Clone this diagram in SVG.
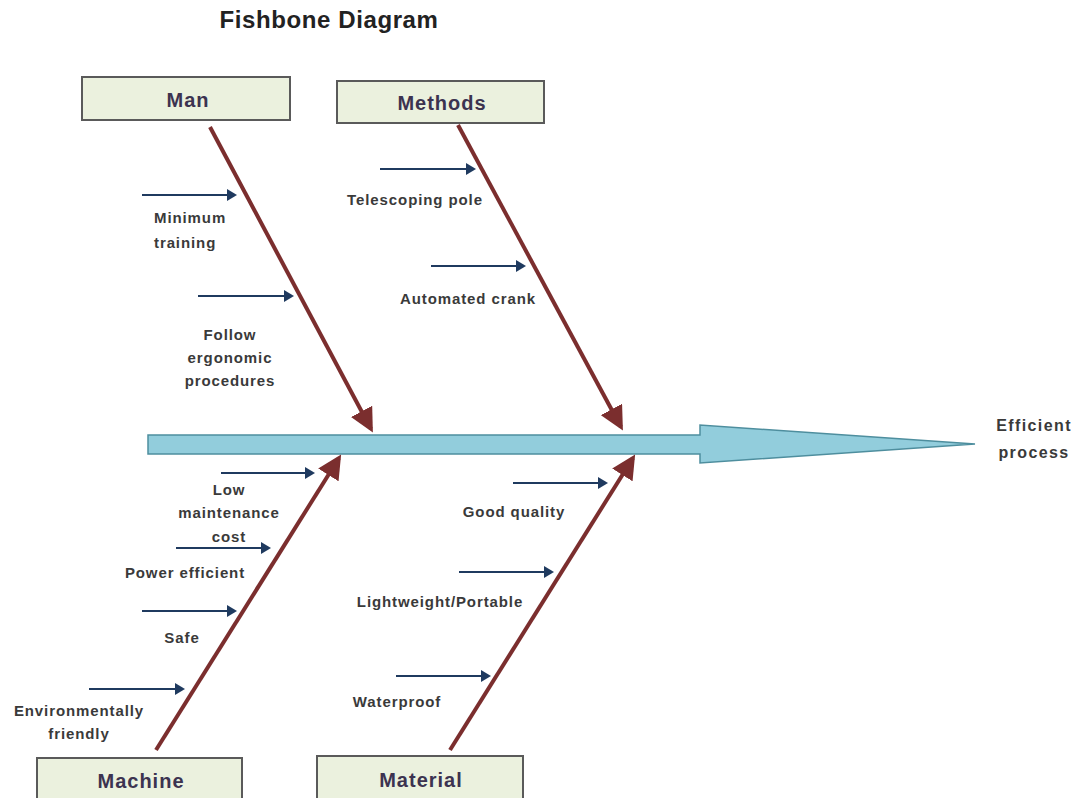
<svg xmlns="http://www.w3.org/2000/svg" width="1079" height="798" viewBox="0 0 1079 798">
<style>
.box{fill:#EBF1DE;stroke:#5a5a5a;stroke-width:2}
.bt{font-family:"Liberation Sans",Arial,sans-serif;font-weight:bold;font-size:20px;letter-spacing:1px;fill:#3c3350;text-anchor:middle}
.lb{font-family:"Liberation Sans",Arial,sans-serif;font-weight:bold;font-size:15px;letter-spacing:0.9px;fill:#3a3a3a;text-anchor:middle}
.ef{font-size:16px;letter-spacing:1.4px}
.bone{stroke:#7B2E2E;stroke-width:4;fill:none;marker-end:url(#bh)}
.sa{stroke:#1F3A5F;stroke-width:2;fill:none;marker-end:url(#sh)}
</style>
<defs>
<marker id="bh" markerWidth="6" markerHeight="6" refX="5" refY="3" orient="auto" markerUnits="strokeWidth">
<path d="M0,0 L6,3 L0,6 Z" fill="#7B2E2E"/>
</marker>
<marker id="sh" markerWidth="5" markerHeight="6" refX="4" refY="3" orient="auto" markerUnits="strokeWidth">
<path d="M0,0 L5,3 L0,6 Z" fill="#1F3A5F"/>
</marker>
</defs>
<text x="329" y="28" font-family="Liberation Sans,Arial,sans-serif" font-weight="bold" font-size="24" letter-spacing="0.6" fill="#222" text-anchor="middle">Fishbone Diagram</text>
<g id="spine">
<path d="M148,435 L700,435 L700,425 L975,444 L700,463 L700,454 L148,454 Z" fill="#92CDDC" stroke="#4E8E9E" stroke-width="1.5"/>
</g>
<g id="effect"><text class="lb ef" x="1034" y="431">Efficient</text><text class="lb ef" x="1034" y="458">process</text></g>
<g id="man"><rect class="box" x="82" y="77" width="208" height="43"/><text class="bt" x="188" y="107">Man</text></g>
<g id="methods"><rect class="box" x="337" y="81" width="207" height="42"/><text class="bt" x="442" y="110">Methods</text></g>
<g id="machine"><rect class="box" x="37" y="758" width="205" height="44"/><text class="bt" x="141" y="788">Machine</text></g>
<g id="material"><rect class="box" x="317" y="756" width="206" height="46"/><text class="bt" x="421" y="787">Material</text></g>
<g id="connectors">
<line class="bone" x1="210" y1="127" x2="371" y2="429"/>
<line class="bone" x1="458" y1="125" x2="621" y2="427"/>
<line class="bone" x1="156" y1="750" x2="339" y2="458"/>
<line class="bone" x1="450" y1="750" x2="633" y2="458"/>
<line class="sa" x1="142" y1="195" x2="235" y2="195"/>
<line class="sa" x1="198" y1="296" x2="292" y2="296"/>
<line class="sa" x1="380" y1="169" x2="474" y2="169"/>
<line class="sa" x1="431" y1="266" x2="524" y2="266"/>
<line class="sa" x1="221" y1="473" x2="313" y2="473"/>
<line class="sa" x1="176" y1="548" x2="269" y2="548"/>
<line class="sa" x1="142" y1="611" x2="235" y2="611"/>
<line class="sa" x1="89" y1="689" x2="183" y2="689"/>
<line class="sa" x1="513" y1="483" x2="606" y2="483"/>
<line class="sa" x1="459" y1="572" x2="552" y2="572"/>
<line class="sa" x1="396" y1="676" x2="489" y2="676"/>
</g>
<g id="labels">
<text class="lb" x="154" y="223" style="text-anchor:start">Minimum</text>
<text class="lb" x="154" y="248" style="text-anchor:start">training</text>
<text class="lb" x="230" y="340">Follow</text>
<text class="lb" x="230" y="363">ergonomic</text>
<text class="lb" x="230" y="386">procedures</text>
<text class="lb" x="415" y="205">Telescoping pole</text>
<text class="lb" x="468" y="304">Automated crank</text>
<text class="lb" x="229" y="495">Low</text>
<text class="lb" x="229" y="518">maintenance</text>
<text class="lb" x="229" y="542">cost</text>
<text class="lb" x="185" y="578">Power efficient</text>
<text class="lb" x="182" y="643">Safe</text>
<text class="lb" x="79" y="716">Environmentally</text>
<text class="lb" x="79" y="739">friendly</text>
<text class="lb" x="514" y="517">Good quality</text>
<text class="lb" x="440" y="607">Lightweight/Portable</text>
<text class="lb" x="397" y="707">Waterproof</text>
</g>
</svg>
